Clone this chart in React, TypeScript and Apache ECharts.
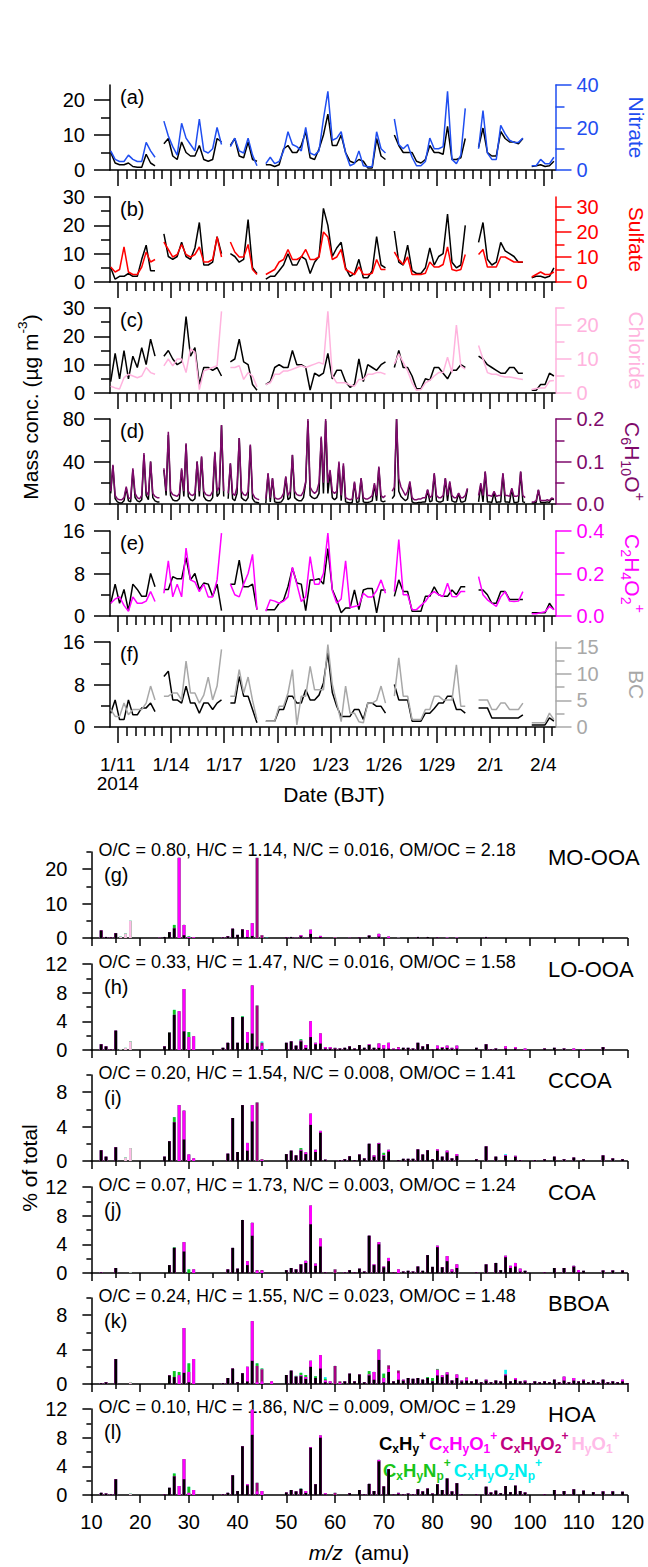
import React, { useEffect, useRef } from "react";
import * as echarts from "echarts";

const _ = null;
const FONT = "'Liberation Sans', Arial, Helvetica, sans-serif";
const W = 648;
const H = 1567;

// ---------------- time axis (days since 2014-01-11 00:00 BJT) ----------------
const T6 = Array.from({ length: 101 }, (_v, k) => -0.4 + 0.25 * k); // 6-hourly
const T3 = Array.from({ length: 201 }, (_v, j) => -0.4 + 0.125 * j); // 3-hourly
const DATE_TICKS = [0, 3, 6, 9, 12, 15, 18, 21, 24];
const DATE_LABELS = ["1/11\n2014", "1/14", "1/17", "1/20", "1/23", "1/26", "1/29", "2/1", "2/4"];
const DATE_MINOR: number[] = [];
for (let d = 0.5; d <= 24.5; d += 0.5) if (d % 3 !== 0) DATE_MINOR.push(d);

// ---------------- time series ----------------
const MOOOA_TS = [
  5, 2, 1.5, 1.5, 2, 1, 0.8, 0.8, 4.5, 2, 1.2, _,
  7.5, 9, 4, 3, 8, 5, 4, 4, 7, 3, 2.5, 3, 9, 8, _,
  7, 9, 4, 3.5, 8, 3, 2.5, _,
  1.5, 1.5, 1, 1.5, 6, 7, 5, 5, 7, 11, 3.5, 3, 6, 10, 16, 7,
  7, 10, 5, 2.5, 2, 3, 2.5, 0.6, 0.6, 9, 4, 3, _,
  10, 7, 5, 5, 5, 2.5, 2, 3, 7, 5, 5, 4.5, 12.5, 3, 3, 3.5, 9, _, _,
  6.5, 12, 5, 4, 4, 11, 9, 8, 8, 7.5, 9, _,
  1, 1.2, 1.5, 1, 1.2, 2.5,
];
const NITRATE = [
  9, 5, 4, 4, 7, 5, 4, 4, 13, 9, 6, _,
  23, 16, 11, 7, 22, 15, 12, 9, 24, 9, 8, 10, 20, 12, _,
  11, 15, 9, 8, 15, 7, 2, _,
  3, 6, 3, 4, 9, 18, 12, 11, 9, 20, 8, 7, 9, 24, 37, 14,
  15, 18, 8, 2, 3, 9, 2, 1.5, 1.5, 18, 10, 8, _,
  24, 12, 10, 12, 6, 2, 2, 4, 15, 10, 10, 11, 37, 5, 3, 7, 29, _, _,
  10, 28, 8, 5, 5, 21, 17, 14, 13, 13, 15, _,
  2, 2, 5, 3, 3, 6,
];
const LOOOA_TS = [
  5, 1, 2, 2, 3, 2, 2, 8, 13, 4, 4, _,
  17, 9, 8, 9, 14, 9, 8, 12, 21, 6, 6, 7, 16, 10, _,
  10, 9, 7, 8, 22, 5, 3, _,
  1, 2, 2, 4, 6, 10, 6, 6, 9, 8, 3, 7, 9, 26, 20, 9,
  12, 14, 5, 2, 3, 8, 1.5, 1.5, 4, 16, 6, 5, _,
  18, 7, 6, 13, 4, 3, 3, 5, 12, 6, 9, 10, 24, 7, 5, 6, 20, _, _,
  14, 21, 8, 6, 7, 14, 11, 10, 9, 7, 7, _,
  1.5, 2, 2, 1.5, 2, 5,
];
const SULFATE = [
  6, 4, 5, 14, 4, 3, 3, 6, 12, 8, 9, _,
  16, 13, 10, 11, 15, 11, 10, 11, 14, 8, 8, 9, 18, 10, _,
  16, 12, 10, 10, 15, 5, 3, _,
  3, 4, 5, 8, 9, 13, 9, 9, 10, 13, 9, 9, 10, 20, 18, 9,
  10, 13, 5, 4, 3, 6, 3, 3, 3.5, 9, 5, 5, _,
  12, 9, 7, 10, 3, 3, 3, 3.5, 8, 6, 6, 7, 14, 5, 4.5, 5, 11, _, _,
  11, 13, 6, 6, 6, 10, 10, 9, 8, 8, 8, _,
  2, 3, 4, 3, 3, 4,
];
const CCOA_TS = [
  4, 14, 5, 15, 5, 13, 9, 16, 10, 19, 13, _,
  13, 15, 12, 10, 11, 27, 13, 16, 3, 9, 9, 8, 9, 6, _,
  11, 12, 19, 11, 10, 3, 1, _,
  3, 4, 9, 10, 9, 9, 15, 10, 10, 9, 1, 7, 6, 7, 14, 5,
  8, 8, 4, 2, 3, 12, 4, 10, 9, 8, 10, 11, _,
  9, 15, 9, 9, 6, 1.5, 1.5, 5, 4.5, 9, 9, 7, 5, 8, 8, 10, 9, _, _,
  13, 12, 10, 9, 8, 7, 7, 9, 9, 7, 7, _,
  1, 1, 3, 3, 7, 6,
];
const CHLORIDE = [
  2, 1.5, 1.2, 4.5, 5.5, 5, 4.5, 5, 7.5, 6, 5.5, _,
  8, 10, 8, 10, 10, 6, 13, 12, 1, 6.5, 7, 7.5, 8, 24, _,
  7.5, 7.5, 8, 4, 6, 5, 1.8, _,
  2.5, 3, 5.5, 5.5, 6.5, 6.5, 7, 7.5, 8, 7.5, 8, 8.5, 9, 8.5, 24, 5,
  3, 3, 3, 2.3, 2, 4, 4, 5.5, 5.5, 6, 6, 5.5, _,
  8.5, 11.5, 9, 6.5, 3, 0.8, 1, 3, 3.7, 5, 6, 6, 10.5, 6, 20, 8, 7, _, _,
  14, 10, 6, 5.5, 5.5, 5, 4.7, 4.7, 4.5, 4.2, 4, _,
  1, 1.3, 1.5, 1.5, 3.5, 3.7,
];
const COA_TS = [
  10, 36, 5, 2, 1, 1, 3, 15, 3, 2, 32, 6, 3, 2, 4, 46, 8, 4, 40, 6, 3, 2, 2, _,
  32, 8, 65, 8, 4, 3, 3, 5, 32, 7, 56, 7, 4, 3, 5, 40, 7, 44, 7, 4, 3, 3, 6, 48, 7, 10, 74, 7, _,
  5, 38, 5, 3, 10, 62, 6, 4, 3, 6, 55, 5, 2, 1.5, 1, _, _,
  1, 28, 2, 24, 2, 1.5, 1.5, 2, 5, 25, 4, 6, 46, 6, 4, 3, 3, 6, 20, 78, 8, 6, 5, 6, 10, 62, 10, 78, 10, 30,
  6, 4, 6, 38, 3, 36, 2, 1.5, 1, 1.5, 20, 1.5, 2, 24, 2, 1.5, 1.5, 2, 3, 18, 3, 34, 3, 2, 3, _, _,
  5, 8, 80, 12, 7, 5, 3, 5, 20, 2, 1, 1, 1.5, 1.5, 2, 2, 13, 2, 3, 28, 3, 2, 2, 3, 24, 3, 20, 3, 2, 2, 10, 2, 2, 3, 14, _, _, _, _,
  2, 18, 2, 30, 2, 2, 1.5, 11, 1.5, 2, 2, 28, 2, 2, 1.5, 14, 1.5, 1.5, 2, 30, 2, 1.5, _, _,
  1, 1, 1.5, 13, 1.5, 1.5, 1.5, 2, 1.5, 5, 4,
];
const C6H10O = [
  0.03, 0.092, 0.02, 0.012, 0.01, 0.01, 0.015, 0.041, 0.015, 0.012, 0.084, 0.025, 0.015, 0.012, 0.02, 0.12, 0.03, 0.02, 0.1, 0.025, 0.018, 0.015, 0.015, _,
  0.084, 0.03, 0.17, 0.03, 0.022, 0.02, 0.018, 0.025, 0.084, 0.03, 0.143, 0.03, 0.022, 0.02, 0.025, 0.1, 0.03, 0.112, 0.03, 0.022, 0.02, 0.02, 0.03, 0.123, 0.03, 0.04, 0.186, 0.03, _,
  0.025, 0.096, 0.025, 0.02, 0.04, 0.155, 0.03, 0.022, 0.02, 0.03, 0.14, 0.025, 0.015, 0.012, 0.01, _, _,
  0.012, 0.073, 0.015, 0.061, 0.015, 0.012, 0.012, 0.015, 0.025, 0.065, 0.02, 0.03, 0.116, 0.03, 0.022, 0.02, 0.02, 0.03, 0.053, 0.2, 0.04, 0.03, 0.025, 0.03, 0.05, 0.159, 0.05, 0.2, 0.05, 0.08,
  0.03, 0.025, 0.03, 0.1, 0.02, 0.096, 0.015, 0.012, 0.01, 0.012, 0.053, 0.012, 0.015, 0.061, 0.015, 0.012, 0.012, 0.015, 0.02, 0.049, 0.02, 0.088, 0.02, 0.015, 0.02, _, _,
  0.03, 0.04, 0.2, 0.06, 0.04, 0.03, 0.02, 0.03, 0.053, 0.015, 0.01, 0.01, 0.012, 0.012, 0.015, 0.015, 0.034, 0.015, 0.02, 0.073, 0.02, 0.015, 0.015, 0.02, 0.061, 0.02, 0.053, 0.02, 0.015, 0.015, 0.026, 0.015, 0.015, 0.02, 0.037, _, _, _, _,
  0.02, 0.049, 0.02, 0.077, 0.02, 0.02, 0.018, 0.03, 0.018, 0.02, 0.02, 0.073, 0.02, 0.02, 0.018, 0.037, 0.018, 0.018, 0.02, 0.077, 0.02, 0.015, _, _,
  0.005, 0.005, 0.008, 0.034, 0.008, 0.008, 0.008, 0.01, 0.008, 0.014, 0.012,
];
const BBOA_TS = [
  2.4, 6, 2.4, 5, 1, 6, 5, 3.7, 3.7, 8, 5.5, _,
  5, 5, 7.4, 7, 7, 11, 6.8, 8, 5, 6.2, 6, 3.7, 6, 1, _,
  6, 6, 10.5, 5.5, 5.5, 6, 1.2, _,
  1.2, 1.2, 1.2, 2.4, 3, 5.5, 9, 6.2, 6, 1, 6.8, 6.8, 7, 6, 12.7, 5,
  3, 0.6, 1.5, 1.5, 4.9, 1.2, 4.9, 5.2, 5.2, 0.6, 4.9, 4.9, _,
  3.7, 6.8, 4.6, 4.6, 0.9, 0.9, 0.9, 3.7, 3.7, 5.5, 4, 3.7, 3.7, 4.9, 4, 5.5, 5.5, _, _,
  4.9, 4.9, 4, 2.4, 2.4, 4.6, 4.6, 3.1, 3.1, 3.1, 3.1, _,
  0.6, 0.6, 0.6, 0.6, 2.4, 1.2,
];
const C2H4O2 = [
  0.06, 0.08, 0.09, 0.05, 0.022, 0.09, 0.06, 0.06, 0.07, 0.115, 0.068, _,
  0.107, 0.26, 0.09, 0.15, 0.09, 0.32, 0.17, 0.16, 0.115, 0.15, 0.09, 0.09, 0.17, 0.39, _,
  0.15, 0.1, 0.09, 0.15, 0.2, 0.29, 0.03, _,
  0.022, 0.076, 0.07, 0.06, 0.07, 0.09, 0.23, 0.15, 0.068, 0.09, 0.28, 0.15, 0.15, 0.2, 0.39, 0.12,
  0.06, 0.08, 0.26, 0.04, 0.045, 0.05, 0.107, 0.09, 0.09, 0.12, 0.17, 0.107, _,
  0.115, 0.36, 0.1, 0.1, 0.03, 0.03, 0.05, 0.068, 0.1, 0.115, 0.1, 0.092, 0.154, 0.092, 0.09, 0.115, 0.115, _, _,
  0.185, 0.1, 0.076, 0.06, 0.045, 0.09, 0.115, 0.07, 0.068, 0.07, 0.115, _,
  0.011, 0.011, 0.015, 0.02, 0.045, 0.03,
];
const HOA_TS = [
  2.6, 5.1, 1.4, 1.4, 5.1, 2.3, 2.3, 3.6, 3.6, 4.5, 2.9, _,
  9.5, 10.5, 5.1, 5.1, 4.5, 7.7, 4.5, 4.5, 2.6, 4.5, 4.5, 3.3, 4.5, 5.1, _,
  4.5, 4.5, 9.5, 5.8, 5.8, 3.3, 0.8, _,
  1.1, 1.1, 1.1, 3.3, 3.3, 5.8, 5.8, 4.5, 4.5, 7, 5.1, 5.1, 6, 8.3, 14, 6.5,
  3.9, 2, 2, 2, 3.3, 3.3, 1.4, 4.5, 4.5, 3.9, 3.9, 2.6, _,
  8, 5.1, 5.1, 5.1, 1.1, 1.1, 1.1, 2.6, 2.6, 3.5, 4.5, 4.5, 5.8, 5.8, 3.3, 3.3, 2.6, _, _,
  3.6, 3.6, 3.6, 1.7, 1.7, 1.7, 1.7, 1.7, 1.7, 1.7, 2.3, _,
  0.4, 0.4, 0.4, 0.4, 1.7, 1.1,
];
const BC = [
  3.3, 2, 2, 4.5, 2.3, 3.3, 3.3, 3.3, 4.5, 7.7, 5.1, _,
  5.8, 5.8, 6.4, 6.4, 5.1, 12.4, 6.4, 6.4, 4.5, 6, 9.4, 5.1, 7.7, 14.6, _,
  5.8, 5.8, 10.8, 6.4, 9.4, 5, 1.4, _,
  1.1, 1.1, 1.1, 3.9, 3.9, 6.4, 10.8, 0.4, 5.8, 5.8, 11.4, 7, 7, 7, 15.5, 8,
  4.5, 1, 7.7, 2.6, 2.6, 1, 0.8, 4.5, 4.5, 5, 7.7, 4.5, _,
  5.8, 13, 5.8, 5.8, 1.4, 1.4, 1.4, 3.3, 3.3, 5.8, 5.8, 5.1, 5.1, 5.1, 11.7, 3.9, 3.9, _, _,
  5.1, 5.1, 5.1, 3.3, 3.3, 4.5, 4.5, 3.3, 3.3, 3.3, 4.5, _,
  0.8, 0.8, 0.8, 0.8, 2.6, 1.4,
];

// ---------------- mass spectra, % of total, [m/z, value] ----------------
const MZ = Array.from({ length: 109 }, (_v, i) => 12 + i);
const MZ_TICKS = [10, 20, 30, 40, 50, 60, 70, 80, 90, 100, 110, 120];
const MZ_MINOR = [15, 25, 35, 45, 55, 65, 75, 85, 95, 105, 115];

const MOOOA_CH = [[12, 2.2], [13, 0.3], [14, 0.2], [15, 1.4], [24, 0.1], [25, 0.3], [26, 1.7], [27, 2.8], [29, 0.8], [37, 0.2], [38, 0.5], [39, 2.7], [40, 0.9], [41, 2.5], [42, 0.3], [43, 0.6], [50, 0.2], [51, 0.3], [52, 0.1], [53, 0.5], [54, 0.1], [55, 1.2], [56, 0.2], [57, 0.3], [63, 0.1], [65, 0.2], [67, 0.7], [69, 0.4], [77, 0.3], [79, 0.3], [81, 0.2], [91, 0.3]];
const MOOOA_O1 = [[28, 23.3], [29, 3.0], [30, 0.3], [31, 0.2], [42, 2.0], [43, 3.7], [53, 0.3], [55, 1.2], [57, 0.3], [69, 0.8], [71, 0.4], [83, 0.1], [85, 0.1]];
const MOOOA_O2 = [[44, 23.3], [45, 0.8], [60, 0.2], [73, 0.1]];
const MOOOA_HO = [[16, 0.4], [17, 1.3], [18, 5.0]];
const MOOOA_N = [[27, 1.0], [30, 0.2]];
const MOOOA_ON = [[46, 0.1]];

const LOOOA_CH = [[12, 0.8], [13, 0.5], [14, 0.1], [15, 2.7], [25, 0.5], [26, 2.4], [27, 4.9], [29, 2.6], [37, 0.3], [38, 1.0], [39, 4.6], [40, 1.0], [41, 4.6], [42, 1.0], [43, 2.3], [44, 0.5], [50, 1.0], [51, 1.2], [52, 0.6], [53, 1.2], [54, 0.3], [55, 1.8], [56, 0.8], [57, 0.9], [58, 0.2], [59, 0.2], [60, 0.2], [61, 0.2], [62, 0.3], [63, 0.5], [64, 0.2], [65, 0.7], [66, 0.3], [67, 0.7], [68, 0.3], [69, 0.3], [70, 0.2], [71, 0.2], [72, 0.1], [73, 0.1], [74, 0.3], [75, 0.3], [76, 0.2], [77, 1.0], [78, 0.5], [79, 0.8], [80, 0.1], [81, 0.2], [82, 0.3], [83, 0.3], [84, 0.2], [85, 0.2], [89, 0.3], [91, 0.8], [92, 0.1], [93, 0.2], [95, 0.2], [97, 0.2], [103, 0.2], [105, 0.3], [107, 0.2], [115, 0.4]];
const LOOOA_O1 = [[28, 5.4], [29, 5.9], [30, 1.8], [31, 1.9], [42, 1.5], [43, 6.7], [45, 0.6], [53, 0.1], [54, 0.4], [55, 2.2], [56, 0.2], [57, 1.4], [58, 0.2], [59, 0.2], [67, 0.1], [69, 0.6], [70, 0.5], [71, 0.8], [72, 0.1], [73, 0.2], [81, 0.4], [82, 0.1], [83, 0.3], [84, 0.1], [85, 0.4], [95, 0.3], [97, 0.2], [99, 0.2], [109, 0.2], [111, 0.1]];
const LOOOA_O2 = [[44, 5.7], [45, 0.4], [60, 0.1], [73, 0.1]];
const LOOOA_HO = [[16, 0.1], [17, 0.3], [18, 1.2]];
const LOOOA_N = [[26, 0.1], [27, 0.7], [30, 0.7], [41, 0.1], [53, 0.2]];
const LOOOA_ON = [[45, 0.2], [46, 0.1]];

const CCOA_CH = [[12, 1.25], [13, 0.5], [15, 1.6], [25, 0.5], [26, 2.3], [27, 4.5], [29, 2.5], [38, 0.85], [39, 5.0], [40, 1.05], [41, 6.5], [42, 1.2], [43, 4.6], [50, 0.8], [51, 1.2], [52, 0.65], [53, 1.2], [54, 0.8], [55, 4.2], [56, 1.05], [57, 3.3], [58, 0.15], [61, 0.1], [62, 0.2], [63, 0.55], [64, 0.1], [65, 0.75], [66, 0.3], [67, 2.0], [68, 0.5], [69, 2.0], [70, 0.6], [71, 1.1], [73, 0.1], [74, 0.25], [75, 0.25], [76, 0.25], [77, 1.35], [78, 0.75], [79, 1.25], [80, 0.2], [81, 1.2], [82, 0.5], [83, 1.0], [84, 0.3], [85, 0.6], [89, 0.2], [91, 1.7], [93, 0.5], [95, 0.6], [97, 0.5], [98, 0.1], [101, 0.1], [103, 0.2], [105, 0.5], [107, 0.2], [109, 0.4], [111, 0.2], [115, 0.65], [117, 0.3], [119, 0.2]];
const CCOA_O1 = [[28, 6.5], [29, 3.35], [30, 0.75], [31, 0.3], [42, 0.9], [43, 1.9], [45, 0.1], [53, 0.1], [54, 0.2], [55, 1.3], [56, 0.25], [57, 0.2], [68, 0.15], [69, 0.1], [70, 0.1], [71, 0.2], [81, 0.15], [83, 0.2], [85, 0.2], [95, 0.1], [97, 0.1]];
const CCOA_O2 = [[44, 6.8], [45, 0.1]];
const CCOA_HO = [[17, 0.4], [18, 1.5]];
const CCOA_N = [[27, 0.6], [53, 0.2], [70, 0.25]];
const CCOA_ON = [[95, 0.1]];

const COA_CH = [[12, 0.1], [15, 0.7], [26, 1.1], [27, 3.5], [29, 3.0], [38, 0.5], [39, 3.5], [40, 0.6], [41, 7.4], [42, 1.1], [43, 5.2], [50, 0.4], [51, 0.7], [52, 0.5], [53, 1.2], [54, 1.4], [55, 6.8], [56, 1.0], [57, 3.7], [58, 0.1], [62, 0.1], [63, 0.4], [64, 0.1], [65, 0.6], [66, 0.2], [67, 5.2], [68, 1.1], [69, 4.0], [70, 0.8], [71, 1.65], [72, 0.1], [74, 0.2], [75, 0.3], [76, 0.2], [77, 0.9], [78, 0.3], [79, 2.5], [80, 0.85], [81, 3.6], [82, 0.8], [83, 1.65], [84, 0.2], [85, 0.7], [89, 0.1], [91, 1.2], [93, 1.4], [94, 0.4], [95, 2.2], [96, 0.7], [97, 0.9], [98, 0.2], [99, 0.3], [103, 0.1], [105, 0.7], [107, 0.7], [109, 0.9], [110, 0.1], [111, 0.3], [115, 0.35], [117, 0.35], [119, 0.35]];
const COA_O1 = [[29, 1.3], [31, 0.5], [42, 0.55], [43, 1.8], [44, 0.3], [45, 0.3], [54, 0.3], [55, 2.6], [56, 0.3], [57, 1.1], [68, 0.1], [69, 0.3], [70, 0.1], [71, 0.45], [73, 0.5], [81, 0.2], [83, 0.7], [84, 0.3], [85, 0.5], [95, 0.2], [96, 0.3], [97, 0.5], [98, 0.4], [109, 0.1], [110, 0.3]];
const COA_O2 = [[44, 0.1], [45, 0.1], [60, 0.5]];
const COA_HO = [[18, 0.1]];
const COA_N = [[27, 0.1], [30, 0.5], [53, 0.05]];
const COA_ON: number[][] = [];

const BBOA_CH = [[12, 0.1], [13, 0.2], [15, 2.9], [26, 1.0], [27, 0.8], [29, 1.3], [30, 0.2], [37, 0.1], [38, 0.7], [39, 1.8], [40, 0.2], [41, 1.25], [42, 0.3], [43, 2.7], [50, 1.05], [51, 1.55], [52, 0.85], [53, 0.9], [54, 0.6], [55, 2.0], [56, 0.7], [57, 1.8], [58, 0.2], [59, 0.1], [62, 0.3], [63, 1.2], [64, 0.3], [65, 1.1], [66, 0.2], [67, 1.0], [68, 0.5], [69, 2.8], [70, 0.2], [71, 1.4], [72, 0.3], [73, 0.5], [74, 0.4], [75, 0.7], [76, 0.6], [77, 0.7], [78, 0.5], [79, 0.7], [80, 0.3], [81, 1.0], [82, 0.8], [83, 1.1], [84, 0.4], [85, 0.7], [86, 0.3], [87, 0.4], [88, 0.3], [89, 0.5], [90, 0.2], [91, 0.4], [92, 0.2], [93, 0.4], [94, 0.3], [95, 1.0], [96, 0.3], [97, 0.5], [98, 0.3], [99, 0.3], [100, 0.1], [101, 0.3], [102, 0.2], [103, 0.3], [104, 0.2], [105, 0.5], [106, 0.2], [107, 0.4], [108, 0.2], [109, 0.4], [110, 0.3], [111, 0.4], [112, 0.2], [113, 0.4], [114, 0.2], [115, 0.5], [116, 0.2], [117, 0.3], [118, 0.2], [119, 0.3], [120, 0.1]];
const BBOA_O1 = [[28, 1.0], [29, 5.2], [30, 1.2], [31, 2.9], [42, 1.7], [43, 4.6], [44, 0.2], [45, 0.3], [47, 0.3], [53, 0.1], [54, 0.2], [55, 0.7], [57, 1.55], [58, 0.2], [59, 0.2], [61, 0.1], [67, 0.1], [68, 0.9], [69, 1.2], [70, 0.5], [71, 0.35], [73, 0.75], [74, 0.1], [81, 0.65], [82, 0.2], [83, 0.25], [85, 0.4], [86, 0.1], [87, 0.25], [91, 0.1], [95, 0.1], [97, 0.2], [99, 0.1], [107, 0.45], [109, 0.3], [111, 0.1], [119, 0.2]];
const BBOA_O2 = [[44, 1.9], [45, 1.4], [60, 2.1], [61, 0.2], [71, 0.4], [73, 0.3], [87, 0.1]];
const BBOA_HO = [[18, 0.2]];
const BBOA_N = [[27, 0.7], [28, 0.4], [30, 1.0], [44, 0.3], [45, 0.1], [52, 0.1], [53, 0.3], [54, 0.25], [56, 0.2], [58, 0.2], [67, 0.4], [70, 0.5], [79, 0.1], [80, 0.4], [81, 0.1]];
const BBOA_ON = [[58, 0.2], [95, 0.55]];

const HOA_CH = [[12, 0.3], [13, 0.2], [14, 0.1], [15, 2.2], [25, 0.1], [26, 1.0], [27, 2.6], [29, 2.2], [37, 0.1], [38, 0.3], [39, 2.75], [40, 0.55], [41, 6.8], [42, 1.35], [43, 8.4], [44, 0.1], [50, 0.35], [51, 0.7], [52, 0.5], [53, 0.85], [54, 0.3], [55, 6.6], [56, 1.5], [57, 8.0], [58, 0.1], [63, 0.25], [65, 0.7], [66, 0.1], [67, 1.55], [68, 0.55], [69, 4.7], [70, 1.2], [71, 3.6], [72, 0.1], [73, 0.2], [74, 0.1], [75, 0.2], [76, 0.1], [77, 0.8], [78, 0.5], [79, 0.9], [80, 0.2], [81, 1.5], [82, 0.7], [83, 2.3], [84, 0.5], [85, 1.65], [86, 0.1], [89, 0.1], [91, 1.15], [92, 0.35], [93, 0.6], [94, 0.25], [95, 1.25], [96, 0.4], [97, 1.3], [98, 0.55], [99, 0.35], [103, 0.1], [105, 0.7], [107, 0.55], [109, 0.8], [111, 0.6], [113, 0.4], [115, 0.5], [117, 0.5], [119, 0.45]];
const HOA_O1 = [[28, 1.25], [29, 2.8], [30, 0.3], [31, 0.7], [42, 0.15], [43, 3.5], [44, 0.4], [45, 0.55], [54, 0.25], [55, 0.1], [57, 0.3], [58, 0.15], [69, 0.2], [73, 0.1]];
const HOA_O2 = [[44, 1.2], [60, 0.3]];
const HOA_HO = [[18, 0.2]];
const HOA_N = [[27, 0.4], [30, 0.85], [53, 0.05]];
const HOA_ON: number[][] = [];

const FAMILY_COLORS = ["#000000", "#FF00FF", "#A6007F", "#FFBBE8", "#19C419", "#00F0F0"];
const FACTOR_NAMES = ["MO-OOA", "LO-OOA", "CCOA", "COA", "BBOA", "HOA"];
const ELEMENTAL = [
  "O/C = 0.80, H/C = 1.14, N/C = 0.016, OM/OC = 2.18",
  "O/C = 0.33, H/C = 1.47, N/C = 0.016, OM/OC = 1.58",
  "O/C = 0.20, H/C = 1.54, N/C = 0.008, OM/OC = 1.41",
  "O/C = 0.07, H/C = 1.73, N/C = 0.003, OM/OC = 1.24",
  "O/C = 0.24, H/C = 1.55, N/C = 0.023, OM/OC = 1.48",
  "O/C = 0.10, H/C = 1.86, N/C = 0.009, OM/OC = 1.29",
];

// ---------------- layout ----------------
const TS_LEFT = 110;
const TS_WIDTH = 445.5;
const TS_TOPS = [85, 197, 308, 419, 531, 642];
const TS_H = 85;
const X_MIN = -0.44;
const X_MAX = 24.69;
const MS_LEFT = 91.4;
const MS_WIDTH = 536;
const MS_TOPS = [852, 964, 1075, 1187, 1298, 1409];
const MS_H = 86;

type Seg = { t: string; k?: "sub" | "sup"; it?: boolean };

const TS_PANELS: any[] = [
  { letter: "(a)", t: T6, black: MOOOA_TS, col: NITRATE, color: "#1F4EF0", lMax: 24.3, lMaj: [0, 10, 20], lMin: [5, 15], rMax: 40, rMaj: [0, 20, 40], rMin: [10, 30], dec: false, title: [{ t: "Nitrate" }], tsize: 21, tx: 636 },
  { letter: "(b)", t: T6, black: LOOOA_TS, col: SULFATE, color: "#FF0000", lMax: 30, lMaj: [0, 10, 20, 30], lMin: [5, 15, 25], rMax: 34, rMaj: [0, 10, 20, 30], rMin: [5, 15, 25], dec: false, title: [{ t: "Sulfate" }], tsize: 21, tx: 636 },
  { letter: "(c)", t: T6, black: CCOA_TS, col: CHLORIDE, color: "#FFB3DE", lMax: 30, lMaj: [0, 10, 20, 30], lMin: [5, 15, 25], rMax: 25, rMaj: [0, 10, 20], rMin: [5, 15, 25], dec: false, title: [{ t: "Chloride" }], tsize: 21, tx: 636 },
  { letter: "(d)", t: T3, black: COA_TS, col: C6H10O, color: "#7E0A6B", lMax: 80, lMaj: [0, 40, 80], lMin: [20, 60], rMax: 0.2, rMaj: [0, 0.1, 0.2], rMin: [0.05, 0.15], dec: true, title: [{ t: "C" }, { t: "6", k: "sub" }, { t: "H" }, { t: "10", k: "sub" }, { t: "O" }, { t: "+", k: "sup" }], tsize: 21, tx: 632 },
  { letter: "(e)", t: T6, black: BBOA_TS, col: C2H4O2, color: "#FF00FF", lMax: 16, lMaj: [0, 8, 16], lMin: [4, 12], rMax: 0.4, rMaj: [0, 0.2, 0.4], rMin: [0.1, 0.3], dec: true, title: [{ t: "C" }, { t: "2", k: "sub" }, { t: "H" }, { t: "4", k: "sub" }, { t: "O" }, { t: "2", k: "sub" }, { t: "+", k: "sup" }], tsize: 21, tx: 632 },
  { letter: "(f)", t: T6, black: HOA_TS, col: BC, color: "#A8A8A8", lMax: 16, lMaj: [0, 8, 16], lMin: [4, 12], rMax: 16, rMaj: [0, 5, 10, 15], rMin: [2.5, 7.5, 12.5], dec: false, title: [{ t: "BC" }], tsize: 21, tx: 636 },
];

const MS_PANELS: any[] = [
  { letter: "(g)", max: 25, maj: [0, 10, 20], min: [5, 15, 25], fam: [MOOOA_CH, MOOOA_O1, MOOOA_O2, MOOOA_HO, MOOOA_N, MOOOA_ON] },
  { letter: "(h)", max: 12, maj: [0, 4, 8, 12], min: [2, 6, 10], fam: [LOOOA_CH, LOOOA_O1, LOOOA_O2, LOOOA_HO, LOOOA_N, LOOOA_ON] },
  { letter: "(i)", max: 10, maj: [0, 4, 8], min: [2, 6, 10], fam: [CCOA_CH, CCOA_O1, CCOA_O2, CCOA_HO, CCOA_N, CCOA_ON] },
  { letter: "(j)", max: 12, maj: [0, 4, 8, 12], min: [2, 6, 10], fam: [COA_CH, COA_O1, COA_O2, COA_HO, COA_N, COA_ON] },
  { letter: "(k)", max: 10, maj: [0, 4, 8], min: [2, 6, 10], fam: [BBOA_CH, BBOA_O1, BBOA_O2, BBOA_HO, BBOA_N, BBOA_ON] },
  { letter: "(l)", max: 12, maj: [0, 4, 8, 12], min: [2, 6, 10], fam: [HOA_CH, HOA_O1, HOA_O2, HOA_HO, HOA_N, HOA_ON] },
];

const LEGEND_ROWS: { x: number; y: number; items: { segs: Seg[]; color: string }[] }[] = [
  {
    x: 379, y: 1443,
    items: [
      { segs: [{ t: "C" }, { t: "x", k: "sub" }, { t: "H" }, { t: "y", k: "sub" }, { t: "+", k: "sup" }], color: FAMILY_COLORS[0] },
      { segs: [{ t: "C" }, { t: "x", k: "sub" }, { t: "H" }, { t: "y", k: "sub" }, { t: "O" }, { t: "1", k: "sub" }, { t: "+", k: "sup" }], color: FAMILY_COLORS[1] },
      { segs: [{ t: "C" }, { t: "x", k: "sub" }, { t: "H" }, { t: "y", k: "sub" }, { t: "O" }, { t: "2", k: "sub" }, { t: "+", k: "sup" }], color: "#C0007F" },
      { segs: [{ t: "H" }, { t: "y", k: "sub" }, { t: "O" }, { t: "1", k: "sub" }, { t: "+", k: "sup" }], color: FAMILY_COLORS[3] },
    ],
  },
  {
    x: 383, y: 1470,
    items: [
      { segs: [{ t: "C" }, { t: "x", k: "sub" }, { t: "H" }, { t: "y", k: "sub" }, { t: "N" }, { t: "p", k: "sub" }, { t: "+", k: "sup" }], color: FAMILY_COLORS[4] },
      { segs: [{ t: "C" }, { t: "x", k: "sub" }, { t: "H" }, { t: "y", k: "sub" }, { t: "O" }, { t: "z", k: "sub" }, { t: "N" }, { t: "p", k: "sub" }, { t: "+", k: "sup" }], color: FAMILY_COLORS[5] },
    ],
  },
];

// ---------------- helpers ----------------
let measureCtx: CanvasRenderingContext2D | null = null;
function textWidth(t: string, size: number, weight: string, style: string) {
  if (!measureCtx) measureCtx = document.createElement("canvas").getContext("2d");
  if (!measureCtx) return t.length * size * 0.55;
  measureCtx.font = `${style} ${weight} ${size}px ${FONT}`;
  return measureCtx.measureText(t).width;
}

function segWidth(segs: Seg[], size: number, weight: string, sc: number) {
  let w = 0;
  for (const s of segs) w += textWidth(s.t, s.k ? size * sc : size, weight, s.it ? "italic" : "normal");
  return w;
}

function richGroup(segs: Seg[], o: { x: number; y: number; size: number; color: string; weight?: string; rotation?: number; anchor?: "left" | "center"; scale?: number }) {
  const sc = o.scale ?? 0.65;
  const weight = o.weight ?? "normal";
  let cx = 0;
  const kids: any[] = [];
  for (const s of segs) {
    const fs = s.k ? o.size * sc : o.size;
    const st = s.it ? "italic" : "normal";
    const w = textWidth(s.t, fs, weight, st);
    const dy = s.k === "sub" ? o.size * 0.3 : s.k === "sup" ? -o.size * 0.38 : 0;
    kids.push({
      type: "text", x: cx, y: dy, silent: true,
      style: { text: s.t, fill: o.color, fontSize: fs, fontFamily: FONT, fontWeight: weight, fontStyle: st, align: "left", verticalAlign: "middle", textAlign: "left", textVerticalAlign: "middle" },
    });
    cx += w;
  }
  if (o.anchor === "center") kids.forEach((k) => (k.x -= cx / 2));
  return { type: "group", x: o.x, y: o.y, rotation: o.rotation ?? 0, silent: true, children: kids };
}

function plainText(text: string, x: number, y: number, size: number, align = "left", color = "#000") {
  return {
    type: "text", x, y, silent: true,
    style: { text, fill: color, fontSize: size, fontFamily: FONT, align, verticalAlign: "middle", textAlign: align, textVerticalAlign: "middle" },
  };
}

// Cumulative heights of the stacked families at every m/z (family 0 at the bottom).
function cumulative(fams: number[][][]) {
  const acc = MZ.map(() => 0);
  return fams.map((pairs) => {
    pairs.forEach(([m, v]) => {
      if (m >= 12 && m <= 120) acc[m - 12] += v;
    });
    return MZ.map((m, i) => [m, acc[i]]);
  });
}

function zipTS(t: number[], v: (number | null)[]) {
  return t.map((tt, i) => [tt, v[i] == null ? "-" : v[i]]);
}

function yAxisMajor(gi: number, pos: string, max: number, ticks: number[], color: string, dec: boolean, tickLen: number, margin: number) {
  return {
    type: "value", gridIndex: gi, position: pos, min: 0, max,
    axisLine: { show: true, onZero: false, lineStyle: { color, width: 1.5 } },
    axisTick: { show: true, length: tickLen, customValues: ticks, lineStyle: { color, width: 1.5 } },
    axisLabel: { show: true, customValues: ticks, color, fontSize: 20, fontFamily: FONT, margin, formatter: (v: number) => (dec ? v.toFixed(1) : String(v)) },
    splitLine: { show: false },
  };
}
function yAxisMinor(gi: number, pos: string, max: number, ticks: number[], color: string, tickLen: number) {
  return {
    type: "value", gridIndex: gi, position: pos, min: 0, max,
    axisLine: { show: false, onZero: false },
    axisTick: { show: true, length: tickLen, customValues: ticks, lineStyle: { color, width: 1.5 } },
    axisLabel: { show: false },
    splitLine: { show: false },
  };
}

function buildOption() {
  const grid: any[] = [];
  const xAxis: any[] = [];
  const yAxis: any[] = [];
  const series: any[] = [];
  const graphic: any[] = [];

  // ----- time series panels -----
  TS_PANELS.forEach((p, i) => {
    const gi = grid.length;
    grid.push({ left: TS_LEFT, top: TS_TOPS[i], width: TS_WIDTH, height: TS_H });
    const xi = xAxis.length;
    xAxis.push({
      type: "value", gridIndex: gi, min: X_MIN, max: X_MAX, position: "bottom",
      axisLine: { show: true, onZero: false, lineStyle: { color: "#000", width: 1.5 } },
      axisTick: { show: true, length: 16, customValues: DATE_TICKS, lineStyle: { color: "#000", width: 1.5 } },
      axisLabel: i === 5
        ? { show: true, customValues: DATE_TICKS, color: "#000", fontSize: 19, fontFamily: FONT, margin: 28, lineHeight: 19, formatter: (v: number) => DATE_LABELS[DATE_TICKS.indexOf(Math.round(v))] ?? "" }
        : { show: false },
      splitLine: { show: false },
    });
    xAxis.push({
      type: "value", gridIndex: gi, min: X_MIN, max: X_MAX, position: "bottom",
      axisLine: { show: false, onZero: false },
      axisTick: { show: true, length: 9, customValues: DATE_MINOR, lineStyle: { color: "#000", width: 1.5 } },
      axisLabel: { show: false }, splitLine: { show: false },
    });
    const yl = yAxis.length;
    yAxis.push(yAxisMajor(gi, "left", p.lMax, p.lMaj, "#000", false, 16, 25));
    yAxis.push(yAxisMinor(gi, "left", p.lMax, p.lMin, "#000", 9));
    const yr = yAxis.length;
    yAxis.push(yAxisMajor(gi, "right", p.rMax, p.rMaj, p.color, p.dec, 16, 21));
    yAxis.push(yAxisMinor(gi, "right", p.rMax, p.rMin, p.color, 9));
    series.push({ type: "line", xAxisIndex: xi, yAxisIndex: yl, data: zipTS(p.t, p.black), showSymbol: false, symbol: "none", connectNulls: false, lineStyle: { color: "#000", width: 1.5 }, silent: true, z: 2 });
    series.push({ type: "line", xAxisIndex: xi, yAxisIndex: yr, data: zipTS(p.t, p.col), showSymbol: false, symbol: "none", connectNulls: false, lineStyle: { color: p.color, width: 1.5 }, silent: true, z: 3 });
    graphic.push(plainText(p.letter, 120, TS_TOPS[i] + 12, 20));
    graphic.push(richGroup(p.title, { x: p.tx, y: TS_TOPS[i] + TS_H / 2, size: p.tsize, color: p.color, rotation: -Math.PI / 2, anchor: "center", scale: 0.68 }));
  });

  // ----- mass spectra panels -----
  MS_PANELS.forEach((p, i) => {
    const gi = grid.length;
    grid.push({ left: MS_LEFT, top: MS_TOPS[i], width: MS_WIDTH, height: MS_H });
    const xi = xAxis.length;
    xAxis.push({
      type: "value", gridIndex: gi, min: 10, max: 120, position: "bottom",
      axisLine: { show: true, onZero: false, lineStyle: { color: "#000", width: 1.5 } },
      axisTick: { show: true, length: 8, customValues: MZ_TICKS, lineStyle: { color: "#000", width: 1.5 } },
      axisLabel: i === 5 ? { show: true, customValues: MZ_TICKS, color: "#000", fontSize: 20, fontFamily: FONT, margin: 17 } : { show: false },
      splitLine: { show: false },
    });
    xAxis.push({
      type: "value", gridIndex: gi, min: 10, max: 120, position: "bottom",
      axisLine: { show: false, onZero: false },
      axisTick: { show: true, length: 5, customValues: MZ_MINOR, lineStyle: { color: "#000", width: 1.5 } },
      axisLabel: { show: false }, splitLine: { show: false },
    });
    const yi = yAxis.length;
    yAxis.push(yAxisMajor(gi, "left", p.max, p.maj, "#000", false, 9, 24));
    yAxis.push(yAxisMinor(gi, "left", p.max, p.min, "#000", 5));
    // stacked bars drawn as overlapping cumulative bars: tallest (all families) first, CxHy last on top
    const cum = cumulative(p.fam);
    for (let f = cum.length - 1; f >= 0; f--) {
      series.push({ type: "bar", xAxisIndex: xi, yAxisIndex: yi, barWidth: 2.7, barGap: "-100%", data: cum[f], itemStyle: { color: FAMILY_COLORS[f] }, silent: true, z: 2 });
    }
    graphic.push(plainText(ELEMENTAL[i], 98.5, MS_TOPS[i] - 2, 18));
    graphic.push(plainText(FACTOR_NAMES[i], 548, MS_TOPS[i] + 5, 22));
    graphic.push(plainText(p.letter, 104, MS_TOPS[i] + 23, 20));
  });

  // ----- axis titles -----
  graphic.push(richGroup([{ t: "Mass conc. (µg m" }, { t: "-3", k: "sup" }, { t: ")" }], { x: 30, y: 407, size: 21, color: "#000", rotation: Math.PI / 2, anchor: "center" }));
  graphic.push(plainText("Date (BJT)", 334, 794, 21, "center"));
  graphic.push(richGroup([{ t: "% of total" }], { x: 29, y: 1168, size: 21, color: "#000", rotation: Math.PI / 2, anchor: "center" }));
  graphic.push(richGroup([{ t: "m/z", it: true }, { t: "  (amu)" }], { x: 359, y: 1552, size: 21, color: "#000", anchor: "center" }));

  // ----- legend (laid out left to right with measured widths) -----
  const LS = 18.5;
  LEGEND_ROWS.forEach((row) => {
    let x = row.x;
    row.items.forEach((it) => {
      graphic.push(richGroup(it.segs, { x, y: row.y, size: LS, color: it.color, weight: "bold", anchor: "left" }));
      x += segWidth(it.segs, LS, "bold", 0.65) + 3;
    });
  });

  return { animation: false, backgroundColor: "#fff", grid, xAxis, yAxis, series, graphic: { elements: graphic } };
}

export default function App() {
  const ref = useRef<HTMLDivElement>(null);
  useEffect(() => {
    document.body.style.margin = "0";
    if (!ref.current) return;
    const chart = echarts.init(ref.current, undefined, { renderer: "svg", width: W, height: H });
    chart.setOption(buildOption() as any);
    return () => chart.dispose();
  }, []);
  return <div ref={ref} style={{ width: W, height: H, background: "#fff" }} />;
}
